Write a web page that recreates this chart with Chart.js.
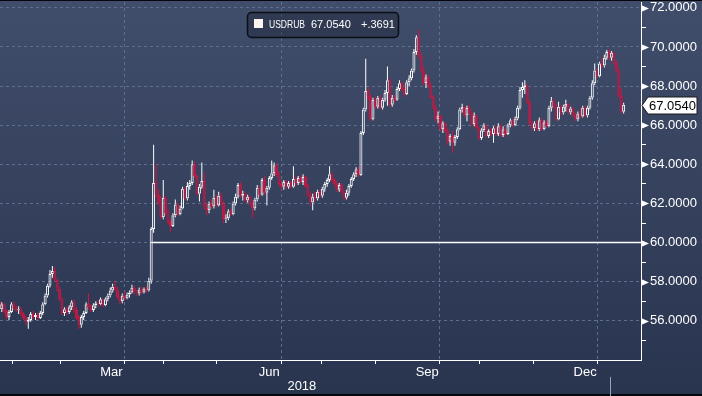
<!DOCTYPE html>
<html>
<head>
<meta charset="utf-8">
<title>USDRUB</title>
<script src="https://cdn.jsdelivr.net/npm/chart.js@4.4.1/dist/chart.umd.min.js"></script>
<style>
  html, body { margin: 0; padding: 0; background: #2f3b57; }
  #wrap { width: 702px; height: 396px; }
</style>
</head>
<body>
<div id="wrap"><canvas id="chart" width="702" height="396"></canvas></div>
<script>
// USDRUB daily candles, 11 Jan 2018 - 8 Jan 2019 (one line per month)
const ticker = "USDRUB";
const firstDay = 7; // weekday number of the first candle, 1 Jan 2018 = 0

const opens = [
  57.00, 56.60, 56.85, 56.50, 56.20, 56.45, 56.85, 56.65, 56.55, 56.60, 56.35, 56.15, 55.95, 56.05, 56.35, 56.20,
  56.30, 56.15, 56.40, 56.85, 57.30, 57.80, 58.40, 58.55, 58.10, 57.65, 57.10, 56.40, 56.60, 56.45, 56.70, 56.95, 56.55, 56.15, 55.80, 56.20,
  56.40, 56.85, 56.70, 56.55, 56.80, 56.90, 56.85, 57.10, 56.80, 57.10, 57.30, 57.55, 57.75, 57.60, 57.20, 57.00, 57.30, 57.15, 57.35, 57.45, 57.70, 57.45,
  57.40, 57.60, 57.45, 57.65, 57.55, 58.05, 60.70, 63.05, 62.45, 62.00, 61.30, 62.30, 61.50, 61.05, 60.85, 61.40, 61.95, 61.45, 61.75, 62.75, 62.25,
  62.90, 63.05, 64.00, 63.40, 62.50, 62.85, 63.15, 61.80, 61.65, 62.00, 61.85, 62.30, 61.90, 62.40, 62.00, 61.20, 61.25, 61.60, 61.45, 62.00, 62.35, 62.95, 62.40,
  62.50, 62.15, 62.35, 62.00, 61.75, 62.20, 62.80, 62.45, 63.20, 62.55, 62.80, 63.30, 63.55, 63.95, 63.45, 63.00, 62.85, 63.10, 62.85, 63.05, 62.85,
  63.25, 63.05, 63.30, 63.10, 63.35, 62.90, 62.45, 62.05, 62.35, 62.25, 62.60, 62.40, 62.75, 63.00, 63.20, 63.50, 63.20, 63.00, 62.70, 62.95, 62.60, 62.30,
  62.55, 62.90, 63.25, 63.50, 63.75, 63.45, 65.60, 66.80, 67.75, 67.45, 66.30, 67.30, 66.95, 67.40, 66.90, 67.30, 67.65, 68.30, 67.05, 67.40, 67.30, 67.85, 68.15,
  67.85, 67.60, 68.20, 68.40, 68.80, 69.75, 70.50, 69.55, 68.80, 68.15, 68.45, 68.05, 67.45, 66.90, 66.30, 66.50, 65.80, 66.10, 65.70, 65.15,
  65.45, 65.10, 65.40, 65.80, 66.80, 66.95, 66.50, 66.90, 66.60, 66.05, 66.50, 65.85, 65.35, 65.75, 66.00, 65.45, 65.70, 65.55, 65.85, 65.55, 65.95, 65.50, 65.80,
  65.55, 66.00, 66.25, 66.00, 66.35, 66.90, 67.80, 67.95, 68.05, 67.20, 66.10, 65.85, 66.10, 65.80, 66.25, 65.80, 66.15, 65.95, 66.90, 67.25, 66.95, 66.30,
  66.95, 66.65, 66.95, 67.10, 66.65, 66.85, 66.55, 66.30, 66.60, 66.45, 66.90, 66.50, 66.90, 67.40, 68.15, 68.80, 68.50, 69.15, 69.05, 69.45, 69.75,
  69.45, 69.70, 69.20, 68.80, 67.50, 66.6849
];

const highs = [
  57.10, 56.95, 56.90, 56.60, 56.55, 56.95, 57.00, 56.80, 56.75, 56.70, 56.45, 56.25, 56.20, 56.45, 56.50, 56.40,
  56.45, 56.50, 56.95, 57.40, 57.90, 58.60, 58.80, 58.75, 58.20, 57.75, 57.20, 56.70, 56.75, 56.80, 57.05, 57.10, 56.70, 56.30, 56.30, 56.50,
  56.95, 57.40, 56.85, 56.90, 57.00, 57.05, 57.20, 57.15, 57.20, 57.40, 57.70, 57.90, 58.05, 57.75, 57.30, 57.40, 57.50, 57.45, 57.55, 57.85, 57.80, 57.60,
  57.70, 57.75, 57.70, 57.80, 58.20, 60.80, 65.00, 64.00, 62.70, 62.40, 63.20, 62.40, 61.70, 61.20, 61.50, 62.20, 62.05, 61.90, 62.85, 62.85, 63.10,
  63.20, 64.20, 64.15, 63.50, 63.00, 64.10, 63.60, 62.00, 62.10, 62.20, 62.70, 62.45, 62.60, 62.55, 62.10, 61.45, 61.70, 61.75, 62.10, 62.50, 63.05, 63.10, 62.65,
  62.60, 62.45, 62.40, 62.15, 62.30, 62.95, 62.90, 63.30, 63.40, 62.90, 63.40, 64.20, 64.10, 64.05, 63.65, 63.20, 63.20, 63.20, 63.15, 63.15, 63.90,
  63.40, 63.40, 63.45, 63.50, 63.40, 63.00, 62.60, 62.50, 62.60, 62.70, 62.70, 62.85, 63.10, 63.30, 63.90, 63.60, 63.30, 63.15, 63.05, 63.05, 62.70, 62.70,
  63.00, 63.35, 63.60, 63.85, 63.90, 65.70, 66.90, 69.40, 67.95, 67.60, 67.40, 67.45, 67.50, 67.55, 67.40, 67.80, 69.00, 68.40, 67.55, 67.55, 67.95, 68.30, 68.25,
  68.05, 68.30, 68.55, 68.90, 69.90, 70.60, 70.90, 69.70, 69.00, 68.60, 68.55, 68.15, 67.55, 67.05, 66.70, 66.55, 66.20, 66.15, 65.85, 65.55,
  65.70, 65.50, 65.90, 66.90, 67.10, 67.00, 67.00, 67.05, 66.70, 66.65, 66.55, 65.95, 65.85, 66.10, 66.05, 65.80, 65.85, 65.95, 66.00, 66.10, 66.05, 65.95, 65.90,
  66.10, 66.35, 66.35, 66.45, 67.00, 67.95, 68.20, 68.30, 68.10, 67.30, 66.20, 66.20, 66.25, 66.40, 66.40, 66.25, 66.30, 67.00, 67.45, 67.35, 67.10, 67.20,
  67.05, 67.05, 67.30, 67.15, 66.95, 66.95, 66.65, 66.70, 66.85, 67.00, 67.00, 67.00, 67.50, 68.30, 69.15, 68.90, 69.25, 69.45, 69.60, 69.85, 69.90,
  69.80, 69.75, 69.30, 68.90, 67.90, 67.15
];

const lows = [
  56.55, 56.45, 56.40, 56.10, 56.05, 56.40, 56.55, 56.45, 56.35, 56.25, 56.05, 55.80, 55.60, 55.95, 56.10, 56.05,
  56.05, 56.10, 56.30, 56.80, 57.20, 57.70, 58.20, 58.00, 57.50, 57.00, 56.30, 56.25, 56.30, 56.35, 56.55, 56.40, 56.05, 55.60, 55.65, 56.05,
  56.35, 56.60, 56.45, 56.45, 56.65, 56.70, 56.80, 56.70, 56.75, 57.00, 57.20, 57.45, 57.50, 57.10, 56.85, 56.90, 57.05, 57.10, 57.20, 57.40, 57.35, 57.30,
  57.30, 57.35, 57.40, 57.45, 57.50, 57.90, 60.50, 62.30, 61.90, 61.20, 61.20, 61.40, 60.95, 60.55, 60.80, 61.30, 61.35, 61.40, 61.70, 62.15, 62.15,
  62.70, 62.95, 63.30, 62.40, 62.10, 62.75, 61.70, 61.40, 61.50, 61.70, 61.75, 61.80, 61.85, 61.90, 61.00, 61.00, 61.15, 61.35, 61.40, 61.90, 62.25, 62.30, 62.15,
  62.05, 62.05, 61.90, 61.25, 61.65, 62.10, 62.35, 62.40, 62.45, 61.90, 62.70, 63.20, 63.40, 63.35, 62.90, 62.70, 62.70, 62.75, 62.75, 62.75, 62.80,
  62.90, 62.95, 63.00, 62.95, 62.80, 62.35, 61.90, 61.65, 62.10, 62.15, 62.25, 62.30, 62.60, 62.85, 63.10, 63.10, 62.90, 62.60, 62.60, 62.50, 62.15, 62.20,
  62.40, 62.80, 63.15, 63.35, 63.35, 63.40, 65.50, 66.70, 67.30, 66.20, 66.25, 66.85, 66.85, 66.80, 66.80, 67.20, 67.00, 66.95, 66.95, 67.15, 67.25, 67.75, 67.75,
  67.45, 67.55, 68.00, 68.30, 68.70, 69.60, 69.40, 68.70, 68.05, 67.90, 67.90, 67.35, 66.80, 66.20, 66.10, 65.70, 65.60, 65.60, 65.00, 64.95,
  64.60, 64.95, 65.30, 65.75, 66.65, 66.40, 66.20, 66.50, 65.95, 65.95, 65.75, 65.25, 65.25, 65.65, 65.35, 65.35, 65.45, 65.10, 65.45, 65.45, 65.40, 65.40, 65.40,
  65.50, 65.90, 65.90, 65.95, 66.25, 66.80, 67.40, 67.60, 67.10, 66.00, 65.70, 65.70, 65.70, 65.70, 65.70, 65.75, 65.85, 65.90, 66.70, 66.85, 66.20, 66.25,
  66.50, 66.55, 66.70, 66.55, 66.55, 66.45, 66.20, 66.20, 66.35, 66.40, 66.40, 66.40, 66.80, 67.30, 68.05, 68.40, 68.45, 68.90, 68.95, 69.35, 69.35,
  69.30, 69.10, 68.70, 67.40, 66.60, 66.60
];

const closes = [
  56.60, 56.85, 56.50, 56.20, 56.45, 56.85, 56.65, 56.55, 56.60, 56.35, 56.15, 55.95, 56.05, 56.35, 56.20, 56.30,
  56.15, 56.40, 56.85, 57.30, 57.80, 58.40, 58.55, 58.10, 57.65, 57.10, 56.40, 56.60, 56.45, 56.70, 56.95, 56.55, 56.15, 55.80, 56.20, 56.40,
  56.85, 56.70, 56.55, 56.80, 56.90, 56.85, 57.10, 56.80, 57.10, 57.30, 57.55, 57.75, 57.60, 57.20, 57.00, 57.30, 57.15, 57.35, 57.45, 57.70, 57.45, 57.40,
  57.60, 57.45, 57.65, 57.55, 58.05, 60.70, 63.05, 62.45, 62.00, 61.30, 62.30, 61.50, 61.05, 60.85, 61.40, 61.95, 61.45, 61.75, 62.75, 62.25, 62.90,
  63.05, 64.00, 63.40, 62.50, 62.85, 63.15, 61.80, 61.65, 62.00, 61.85, 62.30, 61.90, 62.40, 62.00, 61.20, 61.25, 61.60, 61.45, 62.00, 62.35, 62.95, 62.40, 62.50,
  62.15, 62.35, 62.00, 61.75, 62.20, 62.80, 62.45, 63.20, 62.55, 62.80, 63.30, 63.55, 63.95, 63.45, 63.00, 62.85, 63.10, 62.85, 63.05, 62.85, 63.25,
  63.05, 63.30, 63.10, 63.35, 62.90, 62.45, 62.05, 62.35, 62.25, 62.60, 62.40, 62.75, 63.00, 63.20, 63.50, 63.20, 63.00, 62.70, 62.95, 62.60, 62.30, 62.55,
  62.90, 63.25, 63.50, 63.75, 63.45, 65.60, 66.80, 67.75, 67.45, 66.30, 67.30, 66.95, 67.40, 66.90, 67.30, 67.65, 68.30, 67.05, 67.40, 67.30, 67.85, 68.15, 67.85,
  67.60, 68.20, 68.40, 68.80, 69.75, 70.50, 69.55, 68.80, 68.15, 68.45, 68.05, 67.45, 66.90, 66.30, 66.50, 65.80, 66.10, 65.70, 65.15, 65.45,
  65.10, 65.40, 65.80, 66.80, 66.95, 66.50, 66.90, 66.60, 66.05, 66.50, 65.85, 65.35, 65.75, 66.00, 65.45, 65.70, 65.55, 65.85, 65.55, 65.95, 65.50, 65.80, 65.55,
  66.00, 66.25, 66.00, 66.35, 66.90, 67.80, 67.95, 68.05, 67.20, 66.10, 65.85, 66.10, 65.80, 66.25, 65.80, 66.15, 65.95, 66.90, 67.25, 66.95, 66.30, 66.95,
  66.65, 66.95, 67.10, 66.65, 66.85, 66.55, 66.30, 66.60, 66.45, 66.90, 66.50, 66.90, 67.40, 68.15, 68.80, 68.50, 69.15, 69.05, 69.45, 69.75, 69.45,
  69.70, 69.20, 68.80, 67.50, 66.6849, 67.0540
];

// axis furniture (weekday numbers)
const monthStarts = [0, 23, 43, 65, 86, 109, 130, 152, 175, 195, 218, 240, 261];
const monthNames = ["Jan", "Feb", "Mar", "Apr", "May", "Jun", "Jul", "Aug", "Sep", "Oct", "Nov", "Dec", "Jan"];
const shownMonths = ["Mar", "Jun", "Sep", "Dec"];
const gridMonths = ["Apr", "Jul", "Oct", "Jan"];
const yearLabel = "2018";
const yearLabelAt = 132.5;
const yearEnd = 261;
const yTicks = [55, 56, 57, 58, 59, 60, 61, 62, 63, 64, 65, 66, 67, 68, 69, 70, 71, 72];
const refLevel = 60;
const refFrom = 70; // 9 Apr 2018

const FONT = "'Liberation Sans', Arial, sans-serif";
const GRID = "#5c6f90";
const UP = "#ffffff";
const DOWN = "#d3143f";
const DOWN_FILL = "#9a2450";
const NONE = "rgba(0,0,0,0)";

const n = Math.min(opens.length, highs.length, lows.length, closes.length);
const days = [];
for (let k = 0; k < n; k++) days.push(firstDay + k);
const isUp = k => closes[k] >= opens[k];
const bodies = days.map((d, k) => ({ x: d, y: [opens[k], closes[k]] }));
const upperWicks = days.map((d, k) => ({ x: d, y: [Math.max(opens[k], closes[k]), highs[k]] }));
const lowerWicks = days.map((d, k) => ({ x: d, y: [lows[k], Math.min(opens[k], closes[k])] }));

// x ticks: month boundaries (tick marks, quarterly grid) + mid-month labels
const xTickInfo = new Map();
for (let m = 1; m < monthStarts.length; m++) {
  xTickInfo.set(monthStarts[m] - 0.5, { label: "", grid: gridMonths.includes(monthNames[m]), mark: true });
}
for (let m = 0; m < monthStarts.length - 1; m++) {
  if (shownMonths.includes(monthNames[m])) {
    xTickInfo.set((monthStarts[m] + monthStarts[m + 1]) / 2 - 0.5, { label: monthNames[m], grid: false, mark: false });
  }
}
const xTickValues = [...xTickInfo.keys()].sort((a, b) => a - b);

const lastClose = closes[n - 1];
const change = lastClose - closes[n - 2];

function fmtChange(v) {
  const s = Math.abs(v).toFixed(4).replace(/^0/, "");
  return (v >= 0 ? "+" : "-") + s;
}

const chrome = {
  id: "chrome",
  beforeDraw(chart) {
    const { ctx, width, height } = chart;
    const g = ctx.createLinearGradient(0, 0, 0, height);
    g.addColorStop(0, "#414e6b");
    g.addColorStop(1, "#29344f");
    ctx.save();
    ctx.fillStyle = g;
    ctx.fillRect(0, 0, width, height);
    ctx.fillStyle = "#05070c";
    ctx.fillRect(0, 0, width, 1);
    ctx.fillRect(0, height - 2, width, 2);
    ctx.restore();
  },
  afterDraw(chart) {
    const { ctx, scales: { x, y }, chartArea: a } = chart;
    ctx.save();

    // arrow heads on the labelled y ticks
    ctx.fillStyle = "#ffffff";
    yTicks.filter(v => v % 2 === 0).forEach(v => {
      const py = Math.round(y.getPixelForValue(v)) + 0.5;
      ctx.beginPath();
      ctx.moveTo(a.right, py - 3.5);
      ctx.lineTo(a.right + 8, py);
      ctx.lineTo(a.right, py + 3.5);
      ctx.closePath();
      ctx.fill();
    });

    // year label and year separator
    ctx.font = "13px " + FONT;
    ctx.textAlign = "center";
    ctx.textBaseline = "middle";
    ctx.fillText(yearLabel, x.getPixelForValue(yearLabelAt), 386);
    const sx = Math.round(x.getPixelForValue(yearEnd - 0.5)) + 0.5;
    ctx.strokeStyle = "#9aa3b6";
    ctx.lineWidth = 1;
    ctx.beginPath();
    ctx.moveTo(sx, 377);
    ctx.lineTo(sx, 396);
    ctx.stroke();

    // last price tag on the axis
    const ty = Math.round(y.getPixelForValue(lastClose)) + 0.5;
    ctx.beginPath();
    ctx.moveTo(a.right + 1, ty);
    ctx.lineTo(a.right + 7, ty - 8.5);
    ctx.lineTo(a.right + 56, ty - 8.5);
    ctx.lineTo(a.right + 56, ty + 8.5);
    ctx.lineTo(a.right + 7, ty + 8.5);
    ctx.closePath();
    ctx.fillStyle = "#ffffff";
    ctx.fill();
    ctx.strokeStyle = "#1a1a1a";
    ctx.stroke();
    ctx.fillStyle = "#000000";
    ctx.textAlign = "left";
    ctx.fillText(lastClose.toFixed(4), a.right + 8, ty + 0.5);

    // legend box
    const bx = 247.5, by = 12.5, bw = 151, bh = 25, r = 4;
    ctx.beginPath();
    ctx.moveTo(bx + r, by);
    ctx.arcTo(bx + bw, by, bx + bw, by + bh, r);
    ctx.arcTo(bx + bw, by + bh, bx, by + bh, r);
    ctx.arcTo(bx, by + bh, bx, by, r);
    ctx.arcTo(bx, by, bx + bw, by, r);
    ctx.closePath();
    ctx.fillStyle = "rgba(28,35,54,0.45)";
    ctx.fill();
    ctx.strokeStyle = "#0a0e17";
    ctx.lineWidth = 1.5;
    ctx.stroke();
    ctx.fillStyle = "#fff4f0";
    ctx.fillRect(254, 19, 9, 9);
    ctx.fillStyle = "#ffffff";
    ctx.font = "11px " + FONT;
    ctx.textAlign = "left";
    ctx.fillText(ticker, 269, 25, 36);
    ctx.fillText(lastClose.toFixed(4), 311, 25);
    ctx.fillText(fmtChange(change), 361, 25);

    ctx.restore();
  }
};

const upColor = ctx => (isUp(ctx.dataIndex) ? UP : DOWN);

new Chart(document.getElementById("chart"), {
  type: "bar",
  data: {
    datasets: [
      {
        label: ticker,
        data: bodies,
        order: 0,
        grouped: false,
        barThickness: 3,
        borderWidth: 1,
        borderSkipped: false,
        inflateAmount: 0,
        borderColor: upColor,
        backgroundColor: ctx => (isUp(ctx.dataIndex) ? NONE : DOWN_FILL)
      },
      {
        label: "high",
        data: upperWicks,
        order: 1,
        grouped: false,
        barThickness: 1,
        borderWidth: 0,
        inflateAmount: 0,
        backgroundColor: upColor
      },
      {
        label: "low",
        data: lowerWicks,
        order: 1,
        grouped: false,
        barThickness: 1,
        borderWidth: 0,
        inflateAmount: 0,
        backgroundColor: upColor
      },
      {
        type: "line",
        label: "level",
        data: [{ x: refFrom, y: refLevel }, { x: 300, y: refLevel }],
        order: 2,
        borderColor: "#ffffff",
        borderWidth: 1.5,
        pointRadius: 0
      }
    ]
  },
  options: {
    responsive: false,
    devicePixelRatio: 1,
    animation: false,
    events: [],
    layout: { padding: { top: 2, left: 0, right: 0, bottom: 0 } },
    plugins: { legend: { display: false }, tooltip: { enabled: false } },
    scales: {
      x: {
        type: "linear",
        min: 7.27,
        max: 273.2,
        offset: false,
        afterBuildTicks: s => { s.ticks = xTickValues.map(v => ({ value: v })); },
        afterFit: s => { s.height = 36; s.paddingLeft = 0; s.paddingRight = 0; },
        ticks: {
          autoSkip: false,
          maxRotation: 0,
          padding: 1,
          color: "#ffffff",
          font: { family: FONT, size: 13 },
          callback: v => (xTickInfo.get(v) || {}).label || ""
        },
        grid: {
          color: c => (c.tick && (xTickInfo.get(c.tick.value) || {}).grid ? GRID : NONE),
          tickColor: c => (c.tick && (xTickInfo.get(c.tick.value) || {}).mark ? "#ffffff" : NONE),
          tickLength: 4,
          lineWidth: 1
        },
        border: { display: true, color: "#ffffff", width: 1, dash: [3, 3] }
      },
      y: {
        position: "right",
        min: 54,
        max: 72.3,
        afterBuildTicks: s => { s.ticks = yTicks.map(v => ({ value: v })); },
        afterFit: s => { s.width = 61; s.paddingTop = 0; s.paddingBottom = 0; },
        ticks: {
          padding: 4,
          color: "#ffffff",
          font: { family: FONT, size: 13 },
          callback: v => (v % 2 === 0 ? Number(v).toFixed(4) : "")
        },
        grid: {
          color: c => (c.tick && c.tick.value % 2 === 0 ? GRID : NONE),
          tickColor: c => (c.tick && c.tick.value % 2 !== 0 ? "#ffffff" : NONE),
          tickLength: 5,
          lineWidth: 1
        },
        border: { display: true, color: "#ffffff", width: 1, dash: [3, 3] }
      }
    }
  },
  plugins: [chrome]
});
</script>
</body>
</html>
